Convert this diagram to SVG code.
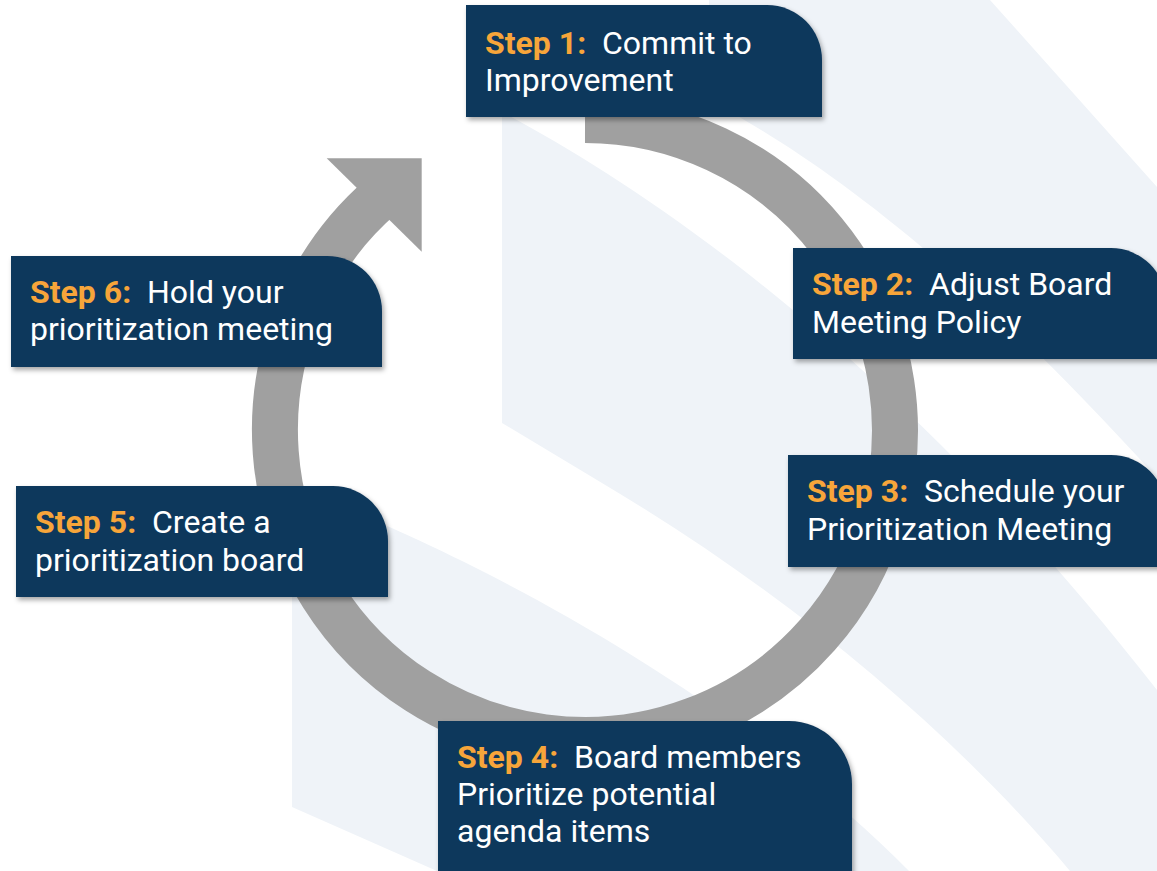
<svg xmlns="http://www.w3.org/2000/svg" width="1157" height="871" viewBox="0 0 1157 871">
  <defs>
    <style>
      .bg { fill: #eff3f8; }
      .box { fill: #11385b; filter: url(#shadow); }
      .ring { fill: none; stroke: #a0a0a0; stroke-width: 46; stroke-linecap: butt; }
      .head { fill: #a0a0a0; }
      .t { font-family: Roboto, "Liberation Sans", sans-serif; font-size: 32px; fill: #ffffff; }
      .k { font-weight: 700; fill: #f7a53a; }
    </style>
    <filter id="shadow" x="-10%" y="-10%" width="125%" height="130%">
      <feDropShadow dx="2" dy="3" stdDeviation="2.5" flood-color="#000000" flood-opacity="0.35"/>
    </filter>
  </defs>

  <rect width="1157" height="871" fill="#ffffff"/>

  <g id="background">
    <path class="bg" d="M709,0 L709,100 C820,160 960,260 1157,478 L1157,187 L990,0 Z"/>
    <path class="bg" d="M502,112 C650,190 900,360 1157,690 L1157,871 L1070,871 C960,740 800,600 597,480 L502,423 Z"/>
    <path class="bg" d="M292,488 C400,525 700,660 909,871 L437,871 L292,807 Z"/>
  </g>

  <g id="connectors">
    <path class="ring" d="M585,120 A310,310 0 1 1 381.6,196"/>
    <polygon class="head" points="326.7,158.3 421.7,158.3 421.7,251.7"/>
  </g>

  <g id="step1">
    <path class="box" d="M466,5 H767 A55,55 0 0 1 822,60 V117 H466 Z"/>
    <text class="t" xml:space="preserve" x="485" y="54"><tspan class="k">Step 1:</tspan>  Commit to</text>
    <text class="t" x="485" y="91">Improvement</text>
  </g>

  <g id="step2">
    <path class="box" d="M793,248 H1111 A55,55 0 0 1 1166,303 V359 H793 Z"/>
    <text class="t" xml:space="preserve" x="812" y="295"><tspan class="k">Step 2:</tspan>  Adjust Board</text>
    <text class="t" x="812" y="333">Meeting Policy</text>
  </g>

  <g id="step3">
    <path class="box" d="M788,455 H1111 A55,55 0 0 1 1166,510 V567 H788 Z"/>
    <text class="t" xml:space="preserve" x="807" y="502"><tspan class="k">Step 3:</tspan>  Schedule your</text>
    <text class="t" x="807" y="540">Prioritization Meeting</text>
  </g>

  <g id="step4">
    <path class="box" d="M438,721 H789 A63,63 0 0 1 852,784 V885 H438 Z"/>
    <text class="t" xml:space="preserve" x="457" y="768"><tspan class="k">Step 4:</tspan>  Board members</text>
    <text class="t" x="457" y="805">Prioritize potential</text>
    <text class="t" x="457" y="842">agenda items</text>
  </g>

  <g id="step5">
    <path class="box" d="M16,486 H333 A55,55 0 0 1 388,541 V597 H16 Z"/>
    <text class="t" xml:space="preserve" x="35" y="533"><tspan class="k">Step 5:</tspan>  Create a</text>
    <text class="t" x="35" y="571">prioritization board</text>
  </g>

  <g id="step6">
    <path class="box" d="M11,256 H327 A55,55 0 0 1 382,311 V367 H11 Z"/>
    <text class="t" xml:space="preserve" x="30" y="303"><tspan class="k">Step 6:</tspan>  Hold your</text>
    <text class="t" x="30" y="340">prioritization meeting</text>
  </g>
</svg>
